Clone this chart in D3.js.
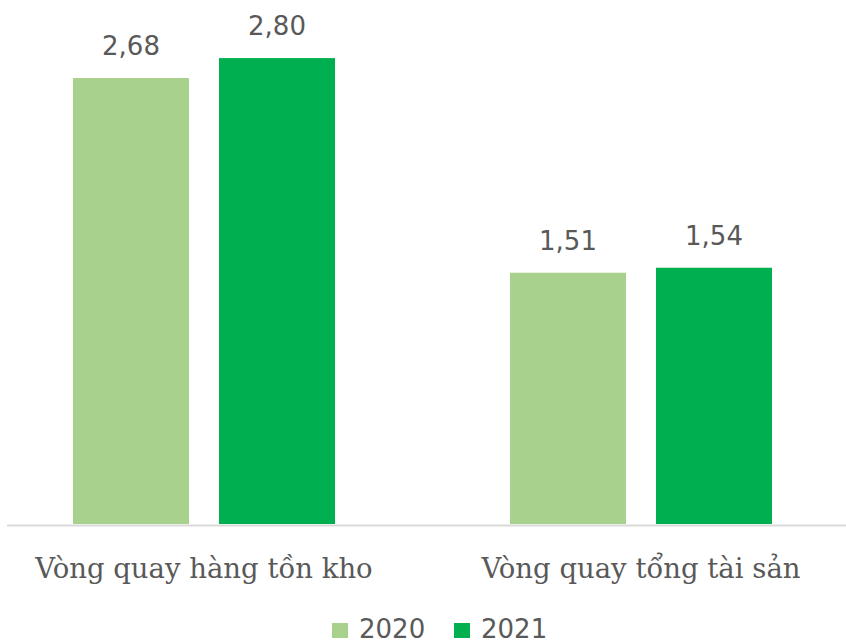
<!DOCTYPE html>
<html>
<head>
<meta charset="utf-8">
<script src="https://cdn.jsdelivr.net/npm/d3@7"></script>
<style>
  html, body { margin: 0; padding: 0; background: #fff; }
  svg { display: block; }
  .serif { font-family: "DejaVu Serif", serif; fill: #595959; }
  .sans { font-family: "DejaVu Sans", sans-serif; fill: #595959; }
</style>
</head>
<body>
<svg id="chart" width="846" height="643"></svg>
<script>
// Financial ratios by year
const categories = ["Vòng quay hàng tồn kho", "Vòng quay tổng tài sản"];
const seriesNames = ["2020", "2021"];
const values2020 = [2.68, 1.51];
const values2021 = [2.80, 1.54];
const seriesColors = ["#A9D18E", "#00B050"];

const seriesValues = [values2020, values2021];
const data = categories.map((c, i) => ({
  category: c,
  bars: seriesNames.map((s, j) => ({ series: s, value: seriesValues[j][i] }))
}));

const svg = d3.select("#chart");
const baseline = 524;

const x0 = d3.scaleBand().domain(categories).range([-14.5, 859.5]).padding(0);
const x1 = d3.scaleBand().domain(seriesNames).range([87.5, 349.5]).paddingInner(0.2055).paddingOuter(0);
const y = d3.scaleLinear().domain([0, 3]).range([baseline, baseline - 3 * 166.4]);
const color = d3.scaleOrdinal().domain(seriesNames).range(seriesColors);
const fmt = v => d3.format(".2f")(v).replace(".", ",");

const groups = svg.selectAll("g.group").data(data).join("g")
  .attr("class", "group")
  .attr("transform", d => `translate(${x0(d.category)},0)`);

groups.selectAll("rect").data(d => d.bars).join("rect")
  .attr("x", d => x1(d.series))
  .attr("y", d => y(d.value))
  .attr("width", x1.bandwidth())
  .attr("height", d => y(0) - y(d.value))
  .attr("fill", d => color(d.series));

// value labels above each bar
groups.selectAll("text.val").data(d => d.bars).join("text")
  .attr("class", "val sans")
  .attr("x", d => x1(d.series) + x1.bandwidth() / 2)
  .attr("y", d => y(d.value) - 23)
  .attr("text-anchor", "middle")
  .attr("font-size", 26)
  .text(d => fmt(d.value));

// category axis line
svg.append("line")
  .attr("x1", 7).attr("x2", 846)
  .attr("y1", baseline + 1.5).attr("y2", baseline + 1.5)
  .attr("stroke", "#d9d9d9").attr("stroke-width", 2);

svg.selectAll("text.cat").data(categories).join("text")
  .attr("class", "cat serif")
  .attr("x", d => x0(d) + x0.bandwidth() / 2)
  .attr("y", 578)
  .attr("text-anchor", "middle")
  .attr("font-size", 27.5)
  .text(d => d);

// legend
const legendItems = [{ name: "2020", x: 332 }, { name: "2021", x: 454 }];
const legend = svg.selectAll("g.legend").data(legendItems).join("g")
  .attr("class", "legend")
  .attr("transform", d => `translate(${d.x},623)`);
legend.append("rect")
  .attr("width", 16).attr("height", 15)
  .attr("fill", d => color(d.name));
legend.append("text")
  .attr("class", "sans")
  .attr("x", 27).attr("y", 15)
  .attr("font-size", 26)
  .text(d => d.name);
</script>
</body>
</html>
